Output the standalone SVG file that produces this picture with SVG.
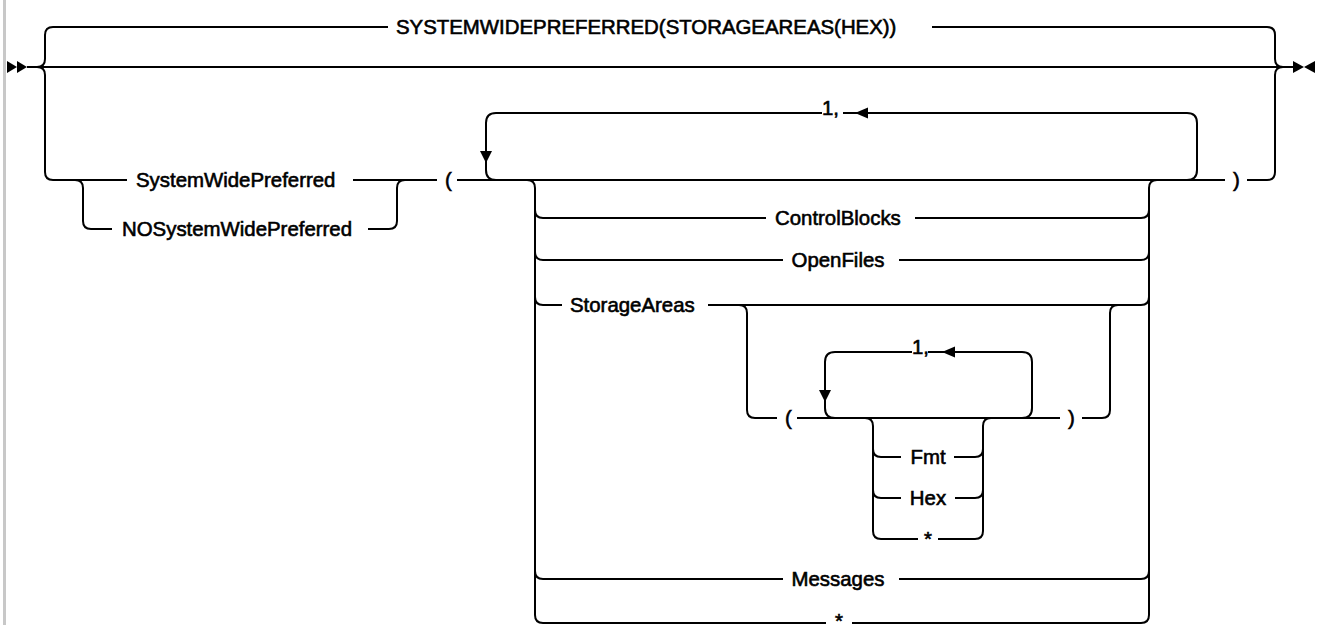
<svg xmlns="http://www.w3.org/2000/svg" width="1323" height="625" viewBox="0 0 1323 625">
<style>
.c{fill:none;stroke:#000;stroke-width:2}
.a{fill:#000}
text{font-family:"Liberation Sans",Arial,sans-serif;font-size:20.4px;fill:#000;stroke:#000;stroke-width:0.6px}
.m{text-anchor:middle}
</style>
<rect x="0" y="0" width="1323" height="625" fill="#fff"/>
<rect x="3" y="0" width="3" height="625" fill="#c8c8c8"/>
<g id="connectors">
<path class="c" d="M27,67 H1293"/>
<path class="c" d="M37,67 Q45,67 45,59 V35 Q45,27 53,27 H388"/>
<path class="c" d="M932,27 H1267 Q1275,27 1275,35 V59 Q1275,67 1283,67"/>
<path class="c" d="M37,67 Q45,67 45,75 V172 Q45,180 53,180 H127"/>
<path class="c" d="M1247,180 H1267 Q1275,180 1275,172 V75 Q1275,67 1283,67"/>
<path class="c" d="M353,180 H437"/>
<path class="c" d="M75,180 Q83,180 83,188 V221 Q83,229 91,229 H112"/>
<path class="c" d="M368,229 H389 Q397,229 397,221 V188 Q397,180 405,180"/>
<path class="c" d="M457,180 H1225"/>
<path class="c" d="M822,113 H496 Q486,113 486,123 V170 Q486,180 496,180"/>
<path class="c" d="M843,113 H1187 Q1197,113 1197,123 V170 Q1197,180 1187,180"/>
<path class="c" d="M527,180 Q535,180 535,188 V615 Q535,623 543,623"/>
<path class="c" d="M535,210 Q535,218 543,218 M535,252 Q535,260 543,260 M535,297 Q535,305 543,305 M535,571 Q535,579 543,579"/>
<path class="c" d="M1157,180 Q1149,180 1149,188 V615 Q1149,623 1141,623"/>
<path class="c" d="M1141,218 Q1149,218 1149,210 M1141,260 Q1149,260 1149,252 M1141,305 Q1149,305 1149,297 M1141,579 Q1149,579 1149,571"/>
<path class="c" d="M543,218 H766 M915,218 H1141"/>
<path class="c" d="M543,260 H783 M899,260 H1141"/>
<path class="c" d="M543,305 H562 M708,305 H1141"/>
<path class="c" d="M543,579 H783 M899,579 H1141"/>
<path class="c" d="M543,623 H826 M852,623 H1141"/>
<path class="c" d="M739,305 Q747,305 747,313 V410 Q747,418 755,418 H777"/>
<path class="c" d="M797,418 H1060"/>
<path class="c" d="M1082,418 H1102 Q1110,418 1110,410 V313 Q1110,305 1118,305"/>
<path class="c" d="M912,352 H835 Q825,352 825,362 V408 Q825,418 835,418"/>
<path class="c" d="M928,352 H1022 Q1032,352 1032,362 V408 Q1032,418 1022,418"/>
<path class="c" d="M865,418 Q873,418 873,426 V531 Q873,539 881,539"/>
<path class="c" d="M873,449 Q873,457 881,457 M873,490 Q873,498 881,498"/>
<path class="c" d="M991,418 Q983,418 983,426 V531 Q983,539 975,539"/>
<path class="c" d="M975,457 Q983,457 983,449 M975,498 Q983,498 983,490"/>
<path class="c" d="M881,457 H901 M954,457 H975"/>
<path class="c" d="M881,498 H901 M955,498 H975"/>
<path class="c" d="M881,539 H918 M938,539 H975"/>
<polygon class="a" points="7,61 17,67 7,73"/>
<polygon class="a" points="17,61 27,67 17,73"/>
<polygon class="a" points="1293,61 1304,67 1293,73"/>
<polygon class="a" points="1315,61 1304,67 1315,73"/>
<polygon class="a" points="868,107.5 855,113 868,118.5"/>
<polygon class="a" points="480,151 492,151 486,163"/>
<polygon class="a" points="955,346.5 942,352 955,357.5"/>
<polygon class="a" points="819,390 831,390 825,402"/>
</g>
<g id="n-default"><text x="396" y="34">SYSTEMWIDEPREFERRED(STORAGEAREAS(HEX))</text></g>
<g id="n-swp"><text x="136" y="187">SystemWidePreferred</text></g>
<g id="n-noswp"><text x="122" y="236">NOSystemWidePreferred</text></g>
<g id="n-lparen"><text x="445" y="187">(</text></g>
<g id="n-rparen"><text x="1233" y="187">)</text></g>
<g id="n-rep1"><text x="822" y="115">1,</text></g>
<g id="n-controlblocks"><text x="775" y="225">ControlBlocks</text></g>
<g id="n-openfiles"><text class="m" x="838" y="267">OpenFiles</text></g>
<g id="n-storageareas"><text x="570" y="312">StorageAreas</text></g>
<g id="n-lparen2"><text x="785" y="425">(</text></g>
<g id="n-rparen2"><text x="1068" y="425">)</text></g>
<g id="n-rep2"><text x="912" y="354">1,</text></g>
<g id="n-fmt"><text class="m" x="928" y="464">Fmt</text></g>
<g id="n-hex"><text class="m" x="928" y="505">Hex</text></g>
<g id="n-star2"><text class="m" x="928" y="546">*</text></g>
<g id="n-messages"><text class="m" x="838" y="586">Messages</text></g>
<g id="n-star"><text class="m" x="839" y="628">*</text></g>
</svg>
